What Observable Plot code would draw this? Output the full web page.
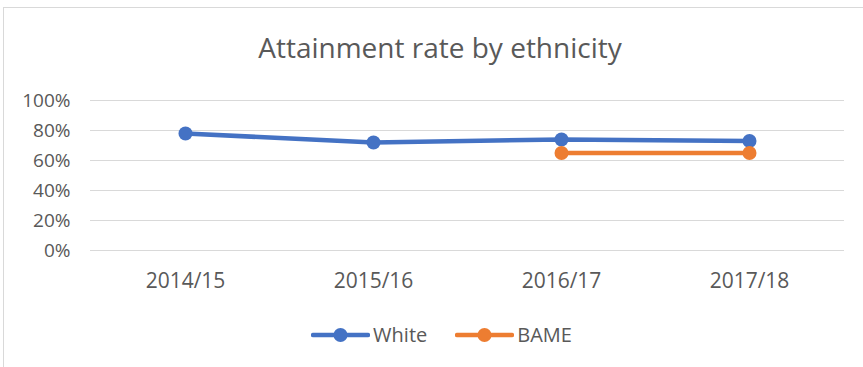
<!DOCTYPE html>
<html>
<head>
<meta charset="utf-8">
<script src="https://cdn.jsdelivr.net/npm/d3@7"></script>
<script src="https://cdn.jsdelivr.net/npm/@observablehq/plot@0.6"></script>
<style>
  html, body { margin: 0; padding: 0; background: #fff; }
  #wrap { position: relative; width: 863px; height: 367px; overflow: hidden; font-family: "Open Sans", sans-serif; }
  #frame { position: absolute; left: 3px; top: 7px; width: 900px; height: 420px; border: 1px solid #d9d9d9; box-sizing: border-box; }
  #title { position: absolute; left: 0; width: 880px; top: 28px; text-align: center; font-size: 28px; line-height: 38px; color: #595959; }
  #chart { position: absolute; left: 0; top: 0; }
  #legend { position: absolute; top: 321px; left: 0; width: 883px; display: flex; justify-content: center; gap: 28px; font-size: 20px; line-height: 28px; color: #595959; }
  .item { display: flex; align-items: center; }
  .item svg { margin-right: 3px; }
</style>
</head>
<body>
<div id="wrap">
  <div id="frame"></div>
  <div id="chart"></div>
  <div id="title">Attainment rate by ethnicity</div>
  <div id="legend"></div>
</div>
<script>
const years = ["2014/15", "2015/16", "2016/17", "2017/18"];
const white = [0.78, 0.72, 0.74, 0.73];
const bame = [null, null, 0.65, 0.65];
const seriesNames = ["White", "BAME"];
const seriesColors = ["#4472C4", "#ED7D31"];
const yTicks = [0, 0.2, 0.4, 0.6, 0.8, 1.0];

const rows = [];
years.forEach((y, i) => {
  if (white[i] != null) rows.push({year: y, value: white[i], series: "White"});
  if (bame[i] != null) rows.push({year: y, value: bame[i], series: "BAME"});
});

const plot = Plot.plot({
  width: 863,
  height: 300,
  marginLeft: 90,
  marginRight: 19,
  marginTop: 100,
  marginBottom: 50,
  style: {fontFamily: "'Open Sans', sans-serif", fontSize: "19px", color: "#595959", background: "transparent"},
  x: {type: "point", domain: years, padding: 0.5, label: null},
  y: {domain: [0, 1], ticks: yTicks, label: null},
  color: {domain: seriesNames, range: seriesColors},
  marks: [
    Plot.gridY(yTicks, {stroke: "#d9d9d9", strokeOpacity: 1, strokeWidth: 1}),
    Plot.axisY({ticks: yTicks, tickFormat: d3.format(".0%"), tickSize: 0, tickPadding: 20, label: null, fill: "#595959", fontSize: 19}),
    Plot.axisX({tickSize: 0, tickPadding: 23, label: null, fill: "#595959", fontSize: 21}),
    Plot.line(rows, {x: "year", y: "value", z: "series", stroke: "series", strokeWidth: 4.5}),
    Plot.dot(rows, {x: "year", y: "value", fill: "series", r: 7})
  ]
});
document.getElementById("chart").appendChild(plot);

const legend = document.getElementById("legend");
seriesNames.forEach((name, i) => {
  const item = document.createElement("div");
  item.className = "item";
  item.innerHTML = `<svg width="59" height="16"><line x1="2" x2="57" y1="8" y2="8" stroke="${seriesColors[i]}" stroke-width="4.5" stroke-linecap="round"/><circle cx="29.5" cy="8" r="7" fill="${seriesColors[i]}"/></svg><span>${name}</span>`;
  legend.appendChild(item);
});
</script>
</body>
</html>
